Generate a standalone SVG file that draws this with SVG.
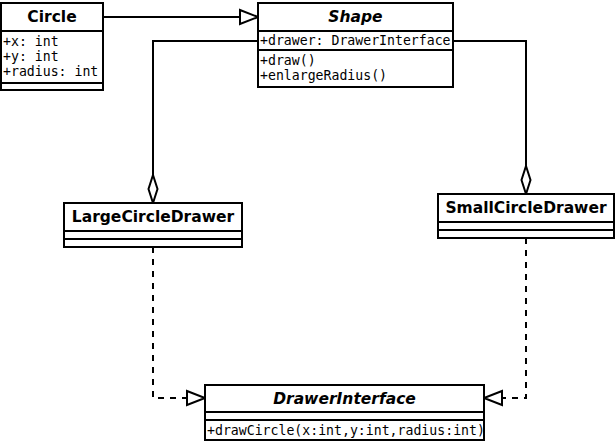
<svg xmlns="http://www.w3.org/2000/svg" width="615" height="442" viewBox="0 0 615 442">
<style>
.box{fill:#fff;stroke:#000;stroke-width:2}
.ln{stroke:#000;stroke-width:2;fill:none}
.t{font-family:"DejaVu Sans",sans-serif;font-weight:bold;font-size:15.5px;text-anchor:middle}
.ti{font-style:italic}
.m{font-family:"DejaVu Sans Mono",monospace;font-size:13.2px}
.c{stroke:#000;stroke-width:2;fill:none}
.d{stroke-dasharray:6,6}
.tri{fill:#fff;stroke:#000;stroke-width:2}
</style>
<defs>
<clipPath id="clipDI"><rect x="205" y="420" width="278" height="20"/></clipPath>
<clipPath id="clipSh"><rect x="258" y="31" width="194" height="19"/></clipPath>
</defs>
<g id="connectors">
<path class="c" d="M103,17 H240"/>
<polygon class="tri" points="240,10 258,17 240,24"/>
<path class="c" d="M258,41 H153 V175"/>
<polygon class="tri" points="153,175 157.5,189 153,203 148.5,189"/>
<path class="c" d="M453,41 H526 V166"/>
<polygon class="tri" points="526,166 530.5,180 526,194 521.5,180"/>
<path class="c d" d="M153,247 V398 H187"/>
<polygon class="tri" points="187,391 205,398 187,405"/>
<path class="c d" d="M526,238 V398 H502"/>
<polygon class="tri" points="502,391 484,398 502,405"/>
</g>
<g id="Circle">
<rect class="box" x="1" y="3" width="102" height="87"/>
<line class="ln" x1="1" y1="31" x2="103" y2="31"/>
<line class="ln" x1="1" y1="83" x2="103" y2="83"/>
<text class="t" x="52" y="22">Circle</text>
<text class="m" x="3" y="45.5">+x: int</text>
<text class="m" x="3" y="60.5">+y: int</text>
<text class="m" x="3" y="75.5">+radius: int</text>
</g>
<g id="Shape">
<rect class="box" x="258" y="3" width="195" height="84"/>
<line class="ln" x1="258" y1="31" x2="453" y2="31"/>
<line class="ln" x1="258" y1="50" x2="453" y2="50"/>
<text class="t ti" x="355.5" y="22">Shape</text>
<text class="m" x="260" y="45" clip-path="url(#clipSh)">+drawer: DrawerInterface</text>
<text class="m" x="260" y="65">+draw()</text>
<text class="m" x="260" y="80">+enlargeRadius()</text>
</g>
<g id="LargeCircleDrawer">
<rect class="box" x="64" y="203" width="178" height="44"/>
<line class="ln" x1="64" y1="231" x2="242" y2="231"/>
<line class="ln" x1="64" y1="239" x2="242" y2="239"/>
<text class="t" x="153" y="222">LargeCircleDrawer</text>
</g>
<g id="SmallCircleDrawer">
<rect class="box" x="438" y="194" width="176" height="44"/>
<line class="ln" x1="438" y1="222" x2="614" y2="222"/>
<line class="ln" x1="438" y1="230" x2="614" y2="230"/>
<text class="t" x="526" y="213">SmallCircleDrawer</text>
</g>
<g id="DrawerInterface">
<rect class="box" x="205" y="385" width="279" height="55"/>
<line class="ln" x1="205" y1="412" x2="484" y2="412"/>
<line class="ln" x1="205" y1="420" x2="484" y2="420"/>
<text class="t ti" x="344.5" y="404">DrawerInterface</text>
<text class="m" x="207" y="435" clip-path="url(#clipDI)">+drawCircle(x:int,y:int,radius:int)</text>
</g>
</svg>
